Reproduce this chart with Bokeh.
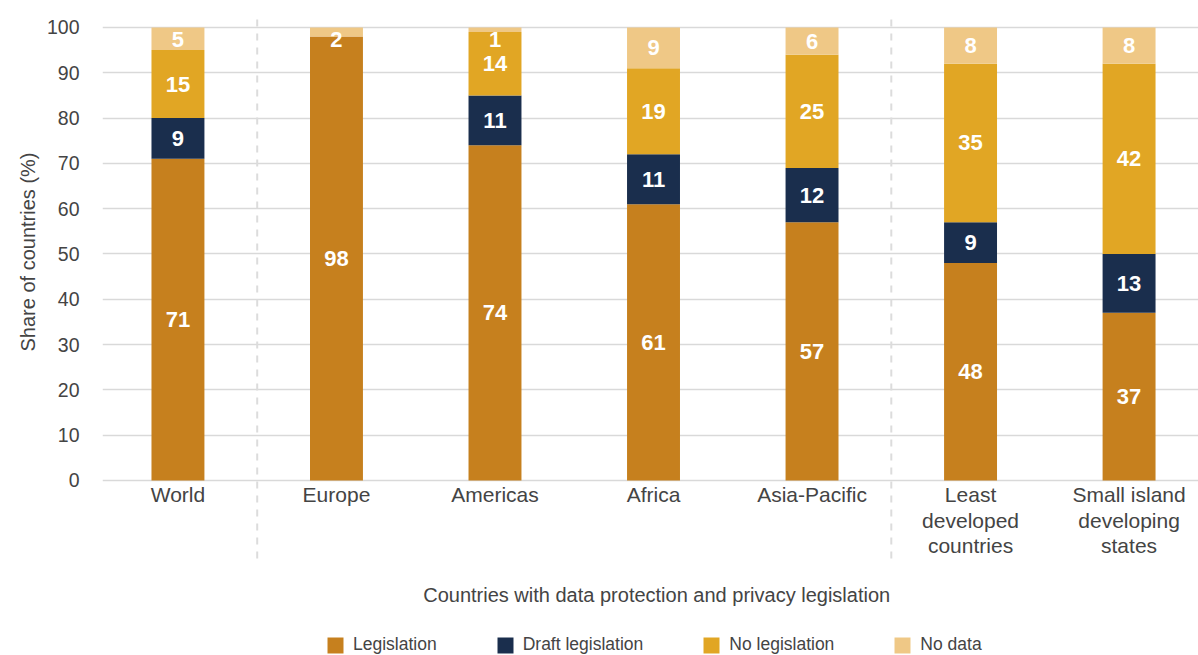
from bokeh.plotting import figure
from bokeh.models import Range1d, FixedTicker, ColumnDataSource, Legend, LegendItem, Title
from bokeh.core.properties import value
from bokeh.embed import file_html
from bokeh.resources import INLINE

# ---------------- data ----------------
categories = ["World", "Europe", "Americas", "Africa", "Asia-Pacific",
              "Least\ndeveloped\ncountries", "Small island\ndeveloping\nstates"]
legislation = [71, 98, 74, 61, 57, 48, 37]
draft_legislation = [9, 0, 11, 11, 12, 9, 13]
no_legislation = [15, 0, 14, 19, 25, 35, 42]
no_data = [5, 2, 1, 9, 6, 8, 8]
series_names = ["Legislation", "Draft legislation", "No legislation", "No data"]
colors = ["#C6801E", "#1A2E4D", "#E1A624", "#EFC886"]
y_ticks = [0, 10, 20, 30, 40, 50, 60, 70, 80, 90, 100]
group_ends = [1, 5]  # group separators placed before these category indexes
y_title = "Share of countries (%)"
x_title = "Countries with data protection and privacy legislation"

FONT = "Liberation Sans"
TXT = "#444444"

xs = list(range(len(categories)))
series = [legislation, draft_legislation, no_legislation, no_data]
keys = ["s0", "s1", "s2", "s3"]
source = ColumnDataSource(dict(x=xs, **{k: v for k, v in zip(keys, series)}))

p = figure(width=1198, height=655, output_backend="svg", toolbar_location=None,
           x_axis_location=None,
           x_range=Range1d(-0.476, 6.438), y_range=Range1d(-38.63, 102.2),
           min_border_left=102, min_border_right=0, min_border_top=17,
           min_border_bottom=0)
p.outline_line_color = None
p.background_fill_color = "white"
p.border_fill_color = "white"

# y axis
p.yaxis.ticker = FixedTicker(ticks=y_ticks)
p.yaxis.axis_line_color = None
p.yaxis.major_tick_line_color = None
p.yaxis.minor_tick_line_color = None
p.yaxis.major_label_text_font = FONT
p.yaxis.major_label_text_font_size = "19.5px"
p.yaxis.major_label_text_color = TXT
p.yaxis.major_label_standoff = 17
p.ygrid.grid_line_color = "#d9d9d9"
p.ygrid.grid_line_width = 1.5
p.xgrid.visible = False

p.add_layout(Title(text=y_title, align="right", text_font=FONT,
                   text_font_size="20px", text_font_style="normal",
                   text_color=TXT, offset=135), "left")

# group separators
sep_x = [g - 0.5 for g in group_ends]
p.segment(x0=sep_x, x1=sep_x, y0=[-17.2] * len(sep_x), y1=[102.2] * len(sep_x),
          line_color="#dcdcdc", line_width=2, line_dash="7 7")

# bars
renderers = p.vbar_stack(keys, x="x", width=0.334, color=colors, line_color=None,
                         source=source)

# segment labels
lx, ly, lt = [], [], []
for i in xs:
    bottom = 0
    for s in series:
        v = s[i]
        if v > 0:
            lx.append(i)
            ly.append(min(bottom + v / 2, 97.4))
            lt.append(str(v))
        bottom += v
p.text(x=lx, y=ly, text=lt, text_align="center", text_baseline="middle",
       text_color="white", text_font=value(FONT), text_font_size="22px",
       text_font_style="bold")

# category labels
p.text(x=xs, y=[-0.6] * len(xs), text=categories, text_align="center",
       text_baseline="top", text_color=TXT, text_font=value(FONT),
       text_font_size="21px", text_line_height=1.1)

# x title
p.text(x=[3.02], y=[-25.2], text=[x_title], text_align="center",
       text_baseline="middle", text_color=TXT, text_font=value(FONT),
       text_font_size="20px")

legend = Legend(items=[LegendItem(label=n, renderers=[r]) for n, r in zip(series_names, renderers)],
                orientation="horizontal", location=(223, 0),
                glyph_width=20, glyph_height=20, label_standoff=8, spacing=58,
                padding=0, margin=0, border_line_color=None, background_fill_alpha=0,
                label_text_font=FONT, label_text_font_size="17.5px",
                label_text_color=TXT, label_height=20)
p.add_layout(legend, "center")

open("out.html", "w").write(file_html(p, INLINE))
